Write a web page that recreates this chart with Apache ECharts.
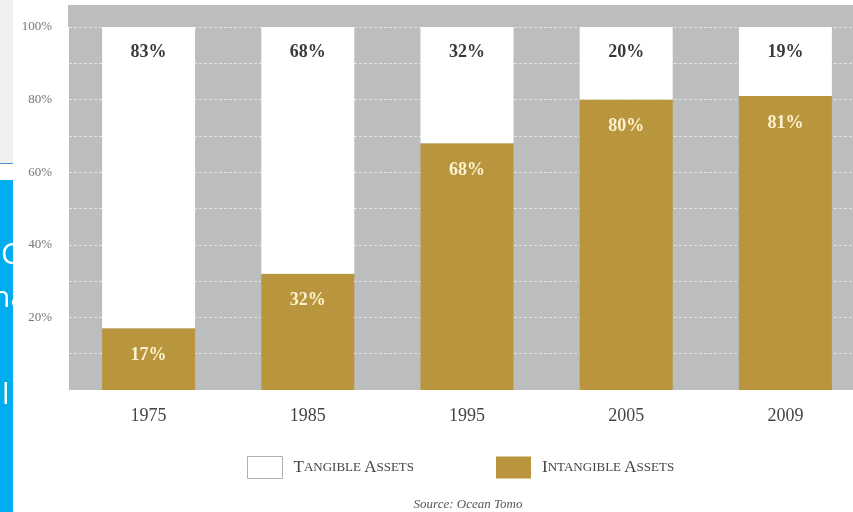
<!DOCTYPE html>
<html>
<head>
<meta charset="utf-8">
<script src="https://cdn.jsdelivr.net/npm/echarts@6/dist/echarts.min.js"></script>
<style>html,body{margin:0;padding:0;background:#fff;}#main{width:853px;height:512px;}</style>
</head>
<body>
<div id="main"></div>
<script>
var years = ['1975', '1985', '1995', '2005', '2009'];
var tangible = [83, 68, 32, 20, 19];
var intangible = [17, 32, 68, 80, 81];
var yTicks = [20, 40, 60, 80, 100];

var serif = '"Liberation Serif", "DejaVu Serif", serif';
var chart = echarts.init(document.getElementById('main'));
chart.setOption({
  animation: false,
  backgroundColor: '#ffffff',
  grid: { left: 69, width: 796, top: 27, bottom: 122, show: true, backgroundColor: '#bcbdbf', borderWidth: 0, outerBoundsMode: 'none', containLabel: false },
  xAxis: {
    type: 'category', data: years,
    axisLine: { show: false }, axisTick: { show: false },
    axisLabel: { margin: 17, fontFamily: serif, fontSize: 18, color: '#444' }
  },
  yAxis: {
    type: 'value', min: 0, max: 100, interval: 10,
    axisLine: { show: false }, axisTick: { show: false },
    axisLabel: {
      margin: 17, fontFamily: serif, fontSize: 13, color: '#777',
      formatter: function (v) { return yTicks.indexOf(v) >= 0 ? v + '%' : ''; }
    },
    splitLine: { show: true, lineStyle: { color: 'rgba(255,255,255,0.55)', type: [3, 2], width: 1 } }
  },
  legend: {
    left: 242, top: 451, itemWidth: 35, itemHeight: 22, itemGap: 82, icon: 'rect',
    data: [
      { name: 'Tangible Assets', itemStyle: { color: '#ffffff', borderColor: '#b0b0b0', borderWidth: 1 } },
      { name: 'Intangible Assets' }
    ],
    textStyle: {
      color: '#444', fontFamily: serif, padding: [0, 0, 0, 6],
      rich: {
        b: { fontSize: 17, fontFamily: serif, color: '#444' },
        s: { fontSize: 13, fontFamily: serif, color: '#444' }
      }
    },
    formatter: function (name) {
      var words = name.toUpperCase().split(' ');
      return words.map(function (w) { return '{b|' + w[0] + '}{s|' + w.slice(1) + '}'; }).join('{s| }');
    }
  },
  graphic: [
    { type: 'rect', z: -1, shape: { x: 68, y: 5, width: 800, height: 22 }, style: { fill: '#bcbdbf' } },
    { type: 'rect', z: -1, shape: { x: 0, y: 0, width: 13, height: 163 }, style: { fill: '#f0f0f0' } },
    { type: 'rect', z: -1, shape: { x: 0, y: 163, width: 13, height: 1 }, style: { fill: '#4a90d9' } },
    { type: 'rect', z: -1, shape: { x: 0, y: 180, width: 13, height: 332 }, style: { fill: '#00aeef' } },
    { type: 'text', z: -1, style: { x: 1, y: 240, text: 'C', fill: '#ffffff', font: '30px "Open Sans"' } },
    { type: 'text', z: -1, style: { x: -8, y: 283, text: 'na', fill: '#ffffff', font: '30px "Open Sans"' } },
    { type: 'text', z: -1, style: { x: 2, y: 380, text: 'l', fill: '#ffffff', font: '30px "Open Sans"' } },
    { type: 'rect', z: -1, shape: { x: 13, y: 180, width: 55, height: 332 }, style: { fill: '#ffffff' } },
    { type: 'text', style: { x: 468, y: 505, text: 'Source: Ocean Tomo', fill: '#555', textAlign: 'center', textVerticalAlign: 'middle', font: 'italic 13px "Liberation Serif"' } }
  ],
  series: [
    {
      name: 'Intangible Assets', type: 'bar', stack: 'a', data: intangible, barWidth: 93,
      itemStyle: { color: '#b9963d' },
      label: { show: true, position: 'insideTop', distance: 18, formatter: '{c}%', color: '#fdf1cf', fontFamily: serif, fontWeight: 'bold', fontSize: 18 }
    },
    {
      name: 'Tangible Assets', type: 'bar', stack: 'a', data: tangible, barWidth: 93,
      itemStyle: { color: '#ffffff' },
      label: { show: true, position: 'insideTop', distance: 16, formatter: '{c}%', color: '#3a3a3a', fontFamily: serif, fontWeight: 'bold', fontSize: 18 }
    }
  ]
});
</script>
</body>
</html>
